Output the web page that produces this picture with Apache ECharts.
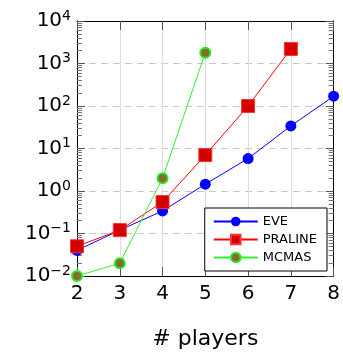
<!DOCTYPE html>
<html>
<head>
<meta charset="utf-8">
<script src="https://cdn.jsdelivr.net/npm/echarts@6/dist/echarts.min.js"></script>
<style>
  html, body { margin: 0; padding: 0; background: #fff; }
  #chart { width: 343px; height: 355px; }
</style>
</head>
<body>
<div id="chart"></div>
<script>
// number of players on the x axis
var players = [2, 3, 4, 5, 6, 7, 8];
// runtimes (log scale)
var eveTimes = [0.04, 0.12, 0.34, 1.45, 5.8, 34, 170];
var pralineTimes = [0.05, 0.12, 0.55, 7, 100, 2200];
var mcmasTimes = [0.01, 0.02, 2, 1800];
// decade ticks of the y axis
var decades = [0.01, 0.1, 1, 10, 100, 1000, 10000];

var fontFam = '"DejaVu Sans", sans-serif';

function pairs(vals) {
  return vals.map(function (v, i) { return [players[i], v]; });
}

// 2..9 x 10^k between the decades
var minorVals = [];
decades.slice(0, -1).forEach(function (d) {
  for (var m = 2; m <= 9; m++) minorVals.push(+(d * m).toPrecision(3));
});

var chart = echarts.init(document.getElementById('chart'));

function makeX(pos, extra) {
  var ax = {
    type: 'value', min: 2, max: 8, interval: 1, position: pos,
    axisLine: { show: true, onZero: false, lineStyle: { color: '#000' } },
    axisTick: { show: true, inside: true, length: 9, lineStyle: { color: '#555', width: 1 } },
    axisLabel: { show: false }
  };
  return Object.assign(ax, extra || {});
}

// no logBase here, the default (10) is what we want
function makeLog(pos, major, extra) {
  var ax = {
    type: 'log', min: 0.01, max: 10000, position: pos,
    axisLine: { show: true, onZero: false, lineStyle: { color: '#000' } },
    axisTick: {
      show: true, inside: true, length: major ? 8 : 5,
      customValues: major ? decades : minorVals,
      lineStyle: { color: major ? '#555' : '#777', width: 1 }
    },
    axisLabel: { show: false },
    splitLine: { show: false }
  };
  return Object.assign(ax, extra || {});
}

var option = {
  animation: false,
  grid: { left: 77, right: 7, top: 21, bottom: 76 },
  legend: {
    orient: 'vertical',
    right: 16,
    bottom: 84,
    backgroundColor: '#fff',
    borderColor: '#000',
    borderWidth: 1,
    padding: [7, 10, 7, 8],
    itemGap: 5,
    itemWidth: 44,
    itemHeight: 12,
    textStyle: { fontFamily: fontFam, fontSize: 13, color: '#000' },
    data: ['EVE', 'PRALINE', 'MCMAS']
  },
  xAxis: [
    makeX('bottom', {
      name: '# players', nameLocation: 'middle', nameGap: 52,
      nameTextStyle: { fontFamily: fontFam, fontSize: 22, color: '#000' },
      axisLabel: { fontFamily: fontFam, fontSize: 20, color: '#000', margin: 8 }
    }),
    makeX('top')
  ],
  yAxis: [
    makeLog('left', true, {
      axisLabel: {
        margin: 6,
        customValues: decades,
        formatter: function (v) {
          var e = Math.round(Math.log(v) / Math.LN10);
          return '{b|10}{s|' + (e < 0 ? '\u2212' + (-e) : e) + '}';
        },
        rich: {
          b: { fontFamily: fontFam, fontSize: 20, color: '#000' },
          s: { fontFamily: fontFam, fontSize: 14, color: '#000', verticalAlign: 'top', padding: [0, 0, 10, 0] }
        }
      },
      splitLine: { show: true, lineStyle: { color: '#c8c8c8', type: [7, 5], width: 1 } }
    }),
    makeLog('left', false),
    makeLog('right', true),
    makeLog('right', false)
  ],
  series: [
    {
      name: 'EVE', type: 'line', data: pairs(eveTimes),
      symbol: 'circle', symbolSize: 11,
      lineStyle: { color: '#0000ff', width: 1 },
      itemStyle: { color: '#0000ff' }
    },
    {
      name: 'PRALINE', type: 'line', data: pairs(pralineTimes),
      symbol: 'rect', symbolSize: 13,
      lineStyle: { color: '#ff0000', width: 1 },
      itemStyle: { color: '#d40000', borderColor: '#ff3333', borderWidth: 1 }
    },
    {
      name: 'MCMAS', type: 'line', data: pairs(mcmasTimes),
      symbol: 'circle', symbolSize: 10,
      lineStyle: { color: '#33ee33', width: 1 },
      itemStyle: { color: '#8a6a2e', borderColor: '#22ee22', borderWidth: 2 }
    }
  ]
};

chart.setOption(option);
</script>
</body>
</html>
